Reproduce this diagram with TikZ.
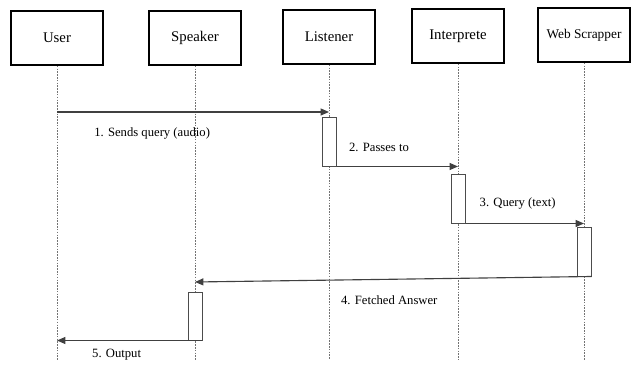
\documentclass[tikz,border=0pt]{standalone}
\usepackage{fontspec}
\setmainfont{Liberation Serif}
\usetikzlibrary{arrows.meta,positioning}

\begin{document}
\begin{tikzpicture}[x=0.025cm,y=-0.025cm,
  actor/.style={draw,line width=1.1pt,minimum width=2.3cm,minimum height=1.35cm,font=\fontsize{10.5}{12}\selectfont},
  life/.style={draw=black!55,dash pattern=on 1.1pt off 0.9pt,line width=0.7pt},
  act/.style={draw=black!70,line width=0.7pt,fill=white,minimum width=0.35cm,minimum height=1.2cm,inner sep=0pt},
  msg/.style={draw=black!75,line width=0.8pt,-{Triangle[length=6pt,width=5pt]}},
  lbl/.style={inner sep=0pt,font=\fontsize{9}{11}\selectfont}]
  \clip (0,0) rectangle (636,365);
  % ACTORS
  \node[actor] (user) at (57,38) {User};
  \node[actor] (speaker) at (195,38) {Speaker};
  \node[actor] (listener) at (329,37) {Listener};
  \node[actor] (interp) at (458,36) {Interprete};
  \node[actor,font=\fontsize{9.5}{11}\selectfont] (scrapper) at (584,35) {Web Scrapper};
  % Lifelines
  \foreach \a in {user,speaker,listener,interp,scrapper}{
    \coordinate (\a-end) at (\a.south |- 0,360);
    \draw[life] (\a.south) -- (\a-end);
  }
  % Activation boxes
  \node[act] (lisAct) at (listener |- 0,142) {};
  \node[act] (intAct) at (interp |- 0,199) {};
  \node[act] (webAct) at (scrapper |- 0,252) {};
  \node[act] (spkAct) at (speaker |- 0,316) {};
  % Messages
  \draw[msg] (user |- 0,112) -- (listener |- 0,112)
    node[lbl,pos=.35,below=11pt] (lab1) {1. Sends query (audio)};
  \draw[msg] (lisAct.south east) -- (interp |- lisAct.south)
    node[lbl,pos=.35,above=10pt] (lab2) {2. Passes to};
  \draw[msg] (intAct.south east) -- (scrapper |- intAct.south)
    node[lbl,pos=.44,above=10pt] (lab3) {3. Query (text)};
  \draw[msg] (webAct.south east) -- (speaker |- 0,282)
    node[lbl,pos=.51,below=11pt] (lab4) {4. Fetched Answer};
  \draw[msg] (spkAct.south east) -- (user |- spkAct.south)
    node[lbl,pos=.59,below=5.5pt] (lab5) {5. Output};
\end{tikzpicture}
\end{document}
